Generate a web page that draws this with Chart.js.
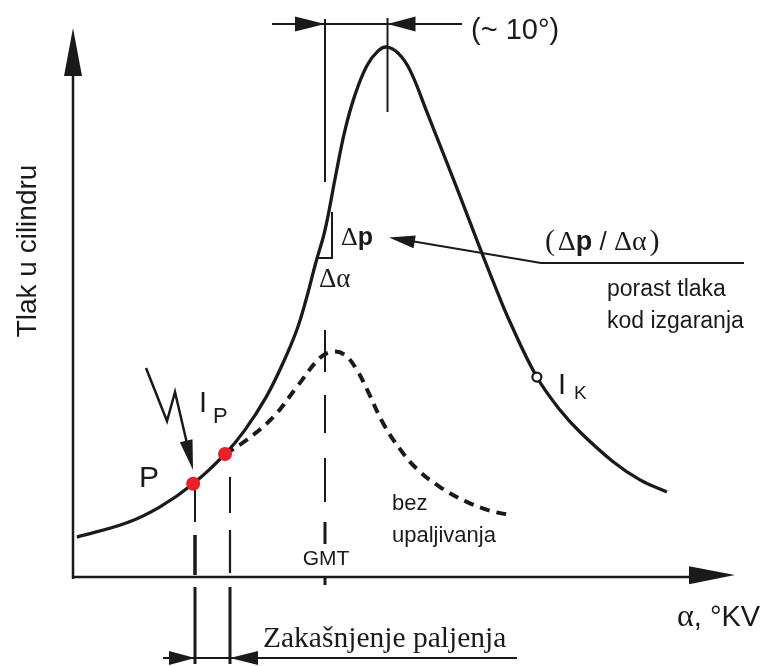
<!DOCTYPE html>
<html>
<head>
<meta charset="utf-8">
<script src="https://cdn.jsdelivr.net/npm/chart.js@4"></script>
<style>
  html, body { margin: 0; padding: 0; background: #fff; }
  #wrap { width: 775px; height: 666px; }
</style>
</head>
<body>
<div id="wrap"><canvas id="pressureChart" width="775" height="666"></canvas></div>
<script>
// Kut koljena (°KV, GMT = 0) i tlak u cilindru (proizvoljne jedinice)
const solidAngle = [-39.7, -31.7, -26.4, -21.1, -16.0, -12.8, -9.4, -6.7, -4.5, -2.9, -1.5, 0.0, 1.7, 3.2, 4.8, 6.7, 8.5, 9.9, 11.7, 13.6, 16.3, 18.9, 21.6, 24.3, 27.0, 29.6, 33.9, 37.6, 40.8, 46.1, 50.4, 54.7];
const solidPressure = [7.8, 10.4, 13.3, 17.5, 22.9, 27.3, 33.3, 39.5, 45.5, 51.5, 57.6, 63.6, 73.5, 81.8, 88.2, 93.5, 96.2, 96.9, 95.8, 92.7, 85.1, 77.6, 69.8, 61.8, 54.0, 46.9, 36.9, 30.9, 26.9, 21.5, 18.2, 16.0];

// bez upaljivanja (kompresija / ekspanzija)
const motoredAngle = [-16.0, -12.5, -8.3, -4.5, -0.8, 1.3, 3.2, 5.1, 6.7, 9.3, 12.0, 14.7, 18.4, 22.7, 26.4, 29.6];
const motoredPressure = [22.9, 25.5, 29.6, 35.1, 40.4, 41.5, 40.9, 38.2, 34.7, 28.5, 23.8, 20.2, 16.9, 14.2, 12.6, 11.8];

// P (iskra) i I_P (početak izgaranja)
const ignitionAngle = [-21.1, -16.0];
const ignitionPressure = [17.5, 22.9];

// I_K (kraj izgaranja)
const endAngle = [33.9];
const endPressure = [36.9];

// oznake na osi kuta
const gmtAngle = 0;
const peakAngle = 10;
const delayAngles = [-20.8, -15.2];

const SANS = '"Liberation Sans", Arial, sans-serif';
const SERIF = '"Liberation Serif", "Times New Roman", serif';
const INK = '#1a1a1a';

function toPoints(xs, ys) {
    return xs.map((x, i) => ({ x: x, y: ys[i] }));
}

function stroke(ctx, pts, w, dash) {
    ctx.save();
    ctx.lineWidth = w;
    ctx.strokeStyle = INK;
    ctx.setLineDash(dash || []);
    ctx.beginPath();
    ctx.moveTo(pts[0][0], pts[0][1]);
    for (let i = 1; i < pts.length; i++) ctx.lineTo(pts[i][0], pts[i][1]);
    ctx.stroke();
    ctx.restore();
}

// vrh strelice: tip = vrh, from = smjer iz kojeg dolazi
function arrowHead(ctx, tx, ty, fx, fy, len, half) {
    const a = Math.atan2(ty - fy, tx - fx);
    const bx = tx - Math.cos(a) * len, by = ty - Math.sin(a) * len;
    ctx.save();
    ctx.fillStyle = INK;
    ctx.beginPath();
    ctx.moveTo(tx, ty);
    ctx.lineTo(bx + Math.sin(a) * half, by - Math.cos(a) * half);
    ctx.lineTo(bx - Math.sin(a) * half, by + Math.cos(a) * half);
    ctx.closePath();
    ctx.fill();
    ctx.restore();
}

function text(ctx, str, x, y, font, align) {
    ctx.save();
    ctx.font = font;
    ctx.fillStyle = INK;
    ctx.textAlign = align || 'left';
    ctx.textBaseline = 'alphabetic';
    ctx.fillText(str, x, y);
    ctx.restore();
}

// niz dijelova teksta s različitim fontovima
function richText(ctx, parts, x, y) {
    ctx.save();
    ctx.fillStyle = INK;
    ctx.textBaseline = 'alphabetic';
    let cx = x;
    parts.forEach(p => {
        ctx.font = p[1];
        ctx.fillText(p[0], cx, y);
        cx += ctx.measureText(p[0]).width;
    });
    ctx.restore();
}

const diagramPlugin = {
    id: 'diagram',
    beforeDatasetsDraw(chart) {
        const ctx = chart.ctx;
        const xs = chart.scales.x;
        const area = chart.chartArea;
        const gx = xs.getPixelForValue(gmtAngle);
        const pk = xs.getPixelForValue(peakAngle);
        const d1 = xs.getPixelForValue(delayAngles[0]);
        const d2 = xs.getPixelForValue(delayAngles[1]);
        const axisY = area.bottom - 3;

        // osi
        stroke(ctx, [[area.left - 2, axisY + 2], [area.left - 2, 40]], 2.5);
        arrowHead(ctx, area.left - 2, 28, area.left - 2, 80, 48, 9);
        stroke(ctx, [[area.left - 2, axisY], [area.right + 5, axisY]], 2.5);
        arrowHead(ctx, area.right + 35, axisY - 2, area.left, axisY, 46, 9);

        // GMT
        stroke(ctx, [[gx, 19], [gx, 182]], 2);
        [[330, 372], [395, 433], [458, 502], [522, 544], [576, axisY + 8]].forEach(s => {
            stroke(ctx, [[gx, s[0]], [gx, s[1]]], s[0] > 510 ? 3 : 2);
        });
        // maksimum
        stroke(ctx, [[pk, 18], [pk, 112]], 2);
        // (~10°) kota
        stroke(ctx, [[272, 24], [462, 24]], 2);
        arrowHead(ctx, gx, 24, 280, 24, 30, 7.5);
        arrowHead(ctx, pk, 24, 450, 24, 28, 7.5);

        // P i I_P
        stroke(ctx, [[d1, 486], [d1, 522]], 2);
        stroke(ctx, [[d1, 535], [d1, 575]], 3.5);
        stroke(ctx, [[d2, 477], [d2, 513]], 2);
        stroke(ctx, [[d2, 530], [d2, 573]], 2.2);
        stroke(ctx, [[d1, 587], [d1, 664]], 3);
        stroke(ctx, [[d2, 587], [d2, 664]], 3);
        stroke(ctx, [[163, 658], [517, 658]], 2);
        arrowHead(ctx, d1, 658, 160, 658, 26, 7);
        arrowHead(ctx, d2, 658, 270, 658, 28, 7);

        // trokut Δp / Δα
        stroke(ctx, [[332, 212], [332, 258], [318, 258]], 2);

        // strelica porast tlaka
        stroke(ctx, [[744, 263], [541, 263], [405, 240]], 2);
        arrowHead(ctx, 389, 237.5, 541, 263, 26, 6.5);

        // munja (iskra)
        stroke(ctx, [[146, 368], [167, 421], [175, 392], [189, 452]], 2.5);
        arrowHead(ctx, 193, 470, 186, 440, 30, 6.5);
    },
    afterDraw(chart) {
        const ctx = chart.ctx;

        ctx.save();
        ctx.translate(36, 251);
        ctx.rotate(-Math.PI / 2);
        text(ctx, 'Tlak u cilindru', 0, 0, '28px ' + SANS, 'center');
        ctx.restore();

        text(ctx, '(~ 10°)', 471, 39, '29px ' + SANS);
        richText(ctx, [
            ['(', '30px ' + SERIF], [' ', '10px ' + SANS], ['Δ', '28px ' + SERIF], ['p', 'bold 27px ' + SANS],
            [' / ', '26px ' + SANS], ['Δα', '28px ' + SERIF], [' ', '10px ' + SANS], [')', '30px ' + SERIF]
        ], 545, 250);
        text(ctx, 'porast tlaka', 607, 296, '23px ' + SANS);
        text(ctx, 'kod izgaranja', 607, 328, '23px ' + SANS);
        richText(ctx, [['Δ', '26px ' + SERIF], ['p', 'bold 25px ' + SANS]], 341, 245);
        text(ctx, 'Δα', 319, 287, '27px ' + SERIF);

        text(ctx, 'P', 139, 487, '30px ' + SANS);
        text(ctx, 'I', 199, 412, '29px ' + SANS);
        text(ctx, 'P', 213, 423, '22px ' + SANS);
        text(ctx, 'I', 558, 394, '29px ' + SANS);
        text(ctx, 'K', 574, 399, '19px ' + SANS);

        text(ctx, 'GMT', 326, 565, '21px ' + SANS, 'center');
        text(ctx, 'bez', 392, 510, '22px ' + SANS);
        text(ctx, 'upaljivanja', 392, 542, '22px ' + SANS);
        richText(ctx, [['α', '32px ' + SERIF], [', °KV', '29px ' + SANS]], 677, 626);
        text(ctx, 'Zakašnjenje paljenja', 263, 647, '29.5px ' + SERIF);
    }
};

const ctx = document.getElementById('pressureChart').getContext('2d');
new Chart(ctx, {
    type: 'line',
    data: {
        datasets: [
            {
                label: 'P, I_P',
                data: toPoints(ignitionAngle, ignitionPressure),
                showLine: false,
                pointRadius: 7,
                pointBackgroundColor: '#e8202a',
                pointBorderColor: '#e8202a',
                pointBorderWidth: 0,
                order: 0
            },
            {
                label: 'I_K',
                data: toPoints(endAngle, endPressure),
                showLine: false,
                pointRadius: 4.5,
                pointBackgroundColor: '#ffffff',
                pointBorderColor: INK,
                pointBorderWidth: 2.2,
                order: 1
            },
            {
                label: 'tlak s izgaranjem',
                data: toPoints(solidAngle, solidPressure),
                borderColor: INK,
                borderWidth: 3.3,
                pointRadius: 0,
                tension: 0.4,
                fill: false,
                order: 2
            },
            {
                label: 'bez upaljivanja',
                data: toPoints(motoredAngle, motoredPressure),
                borderColor: INK,
                borderWidth: 4,
                borderDash: [10, 7],
                pointRadius: 0,
                tension: 0.4,
                fill: false,
                order: 3
            }
        ]
    },
    options: {
        responsive: false,
        animation: false,
        devicePixelRatio: 1,
        layout: {
            padding: { left: 75, right: 75, top: 30, bottom: 86 }
        },
        plugins: {
            legend: { display: false },
            title: { display: false },
            tooltip: { enabled: false }
        },
        scales: {
            x: { type: 'linear', min: -40, max: 60, display: false },
            y: { min: 0, max: 100, display: false }
        }
    },
    plugins: [diagramPlugin]
});
</script>
</body>
</html>
